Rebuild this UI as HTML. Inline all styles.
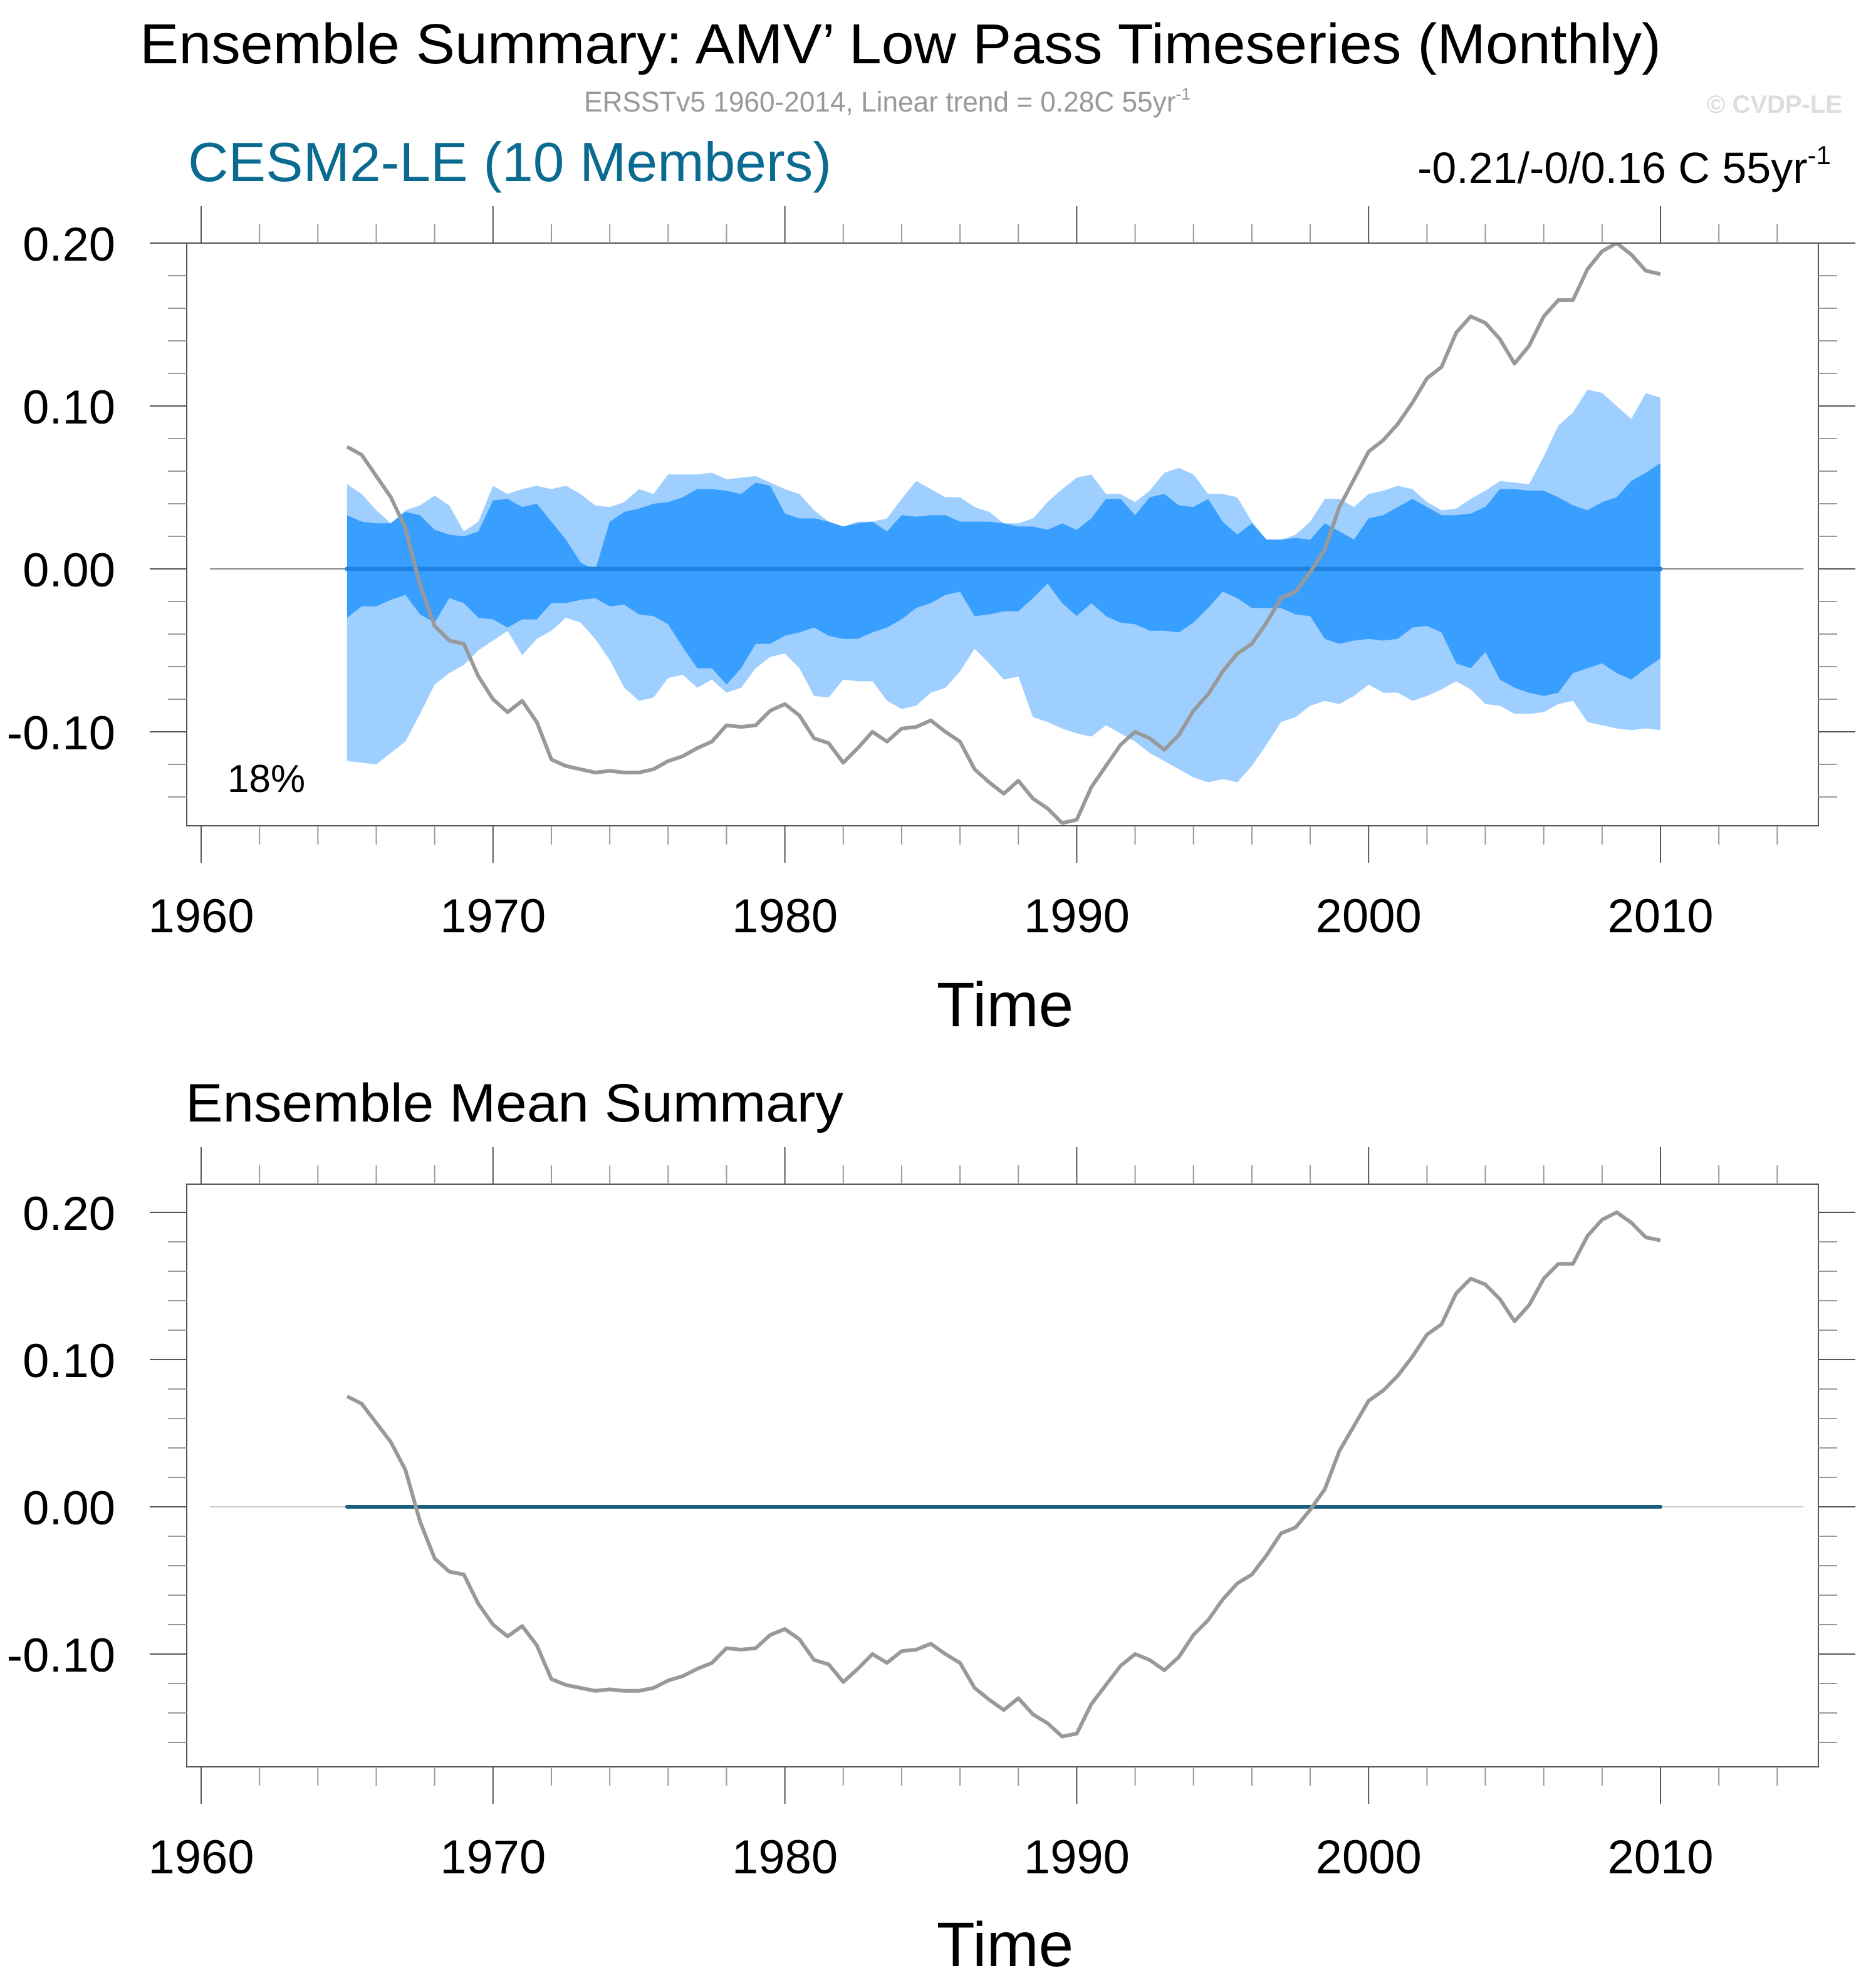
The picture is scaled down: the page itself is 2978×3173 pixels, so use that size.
<!DOCTYPE html>
<html>
<head>
<meta charset="utf-8">
<style>
html,body{margin:0;padding:0;background:#fff;}
svg{display:block;}
text{font-family:"Liberation Sans",Arial,sans-serif;}
</style>
</head>
<body>
<svg id="chart" width="2978" height="3173" viewBox="0 0 2978 3173" xmlns="http://www.w3.org/2000/svg">
  <rect x="0" y="0" width="2978" height="3173" fill="#fff"/>
  <text x="223" y="101" font-size="90" textLength="2428" lengthAdjust="spacingAndGlyphs" fill="#000">Ensemble Summary: AMV’ Low Pass Timeseries (Monthly)</text>
  <text x="932" y="178" font-size="45" textLength="968" lengthAdjust="spacingAndGlyphs" fill="#999">ERSSTv5 1960-2014, Linear trend = 0.28C 55yr<tspan font-size="27" dy="-19">-1</tspan></text>
  <text x="2940" y="180" font-size="40" font-weight="bold" text-anchor="end" fill="#ddd">© CVDP-LE</text>
  <text x="300" y="289" font-size="88" textLength="1027" lengthAdjust="spacingAndGlyphs" fill="#0a6a8f">CESM2-LE (10 Members)</text>
  <text x="2262" y="292" font-size="70" fill="#000">-0.21/-0/0.16 C 55yr<tspan font-size="42" dy="-30">-1</tspan></text>
  <text x="363" y="1264" font-size="62" fill="#000">18%</text>
  <text x="296" y="1790" font-size="86" textLength="1050" lengthAdjust="spacingAndGlyphs" fill="#000">Ensemble Mean Summary</text>
  <g id="top-panel"></g>
  <g id="bottom-panel"></g>
</svg>
<script>
// ---- data ----
const startYear = 1965;
const stepYears = 0.5;
const obsAMV = [0.075,0.070,0.057,0.044,0.025,-0.010,-0.035,-0.044,-0.046,-0.066,-0.080,-0.088,-0.081,-0.094,-0.117,-0.121,-0.123,-0.125,-0.124,-0.125,-0.125,-0.123,-0.118,-0.115,-0.110,-0.106,-0.096,-0.097,-0.096,-0.087,-0.083,-0.090,-0.104,-0.107,-0.119,-0.110,-0.100,-0.106,-0.098,-0.097,-0.093,-0.100,-0.106,-0.123,-0.131,-0.138,-0.130,-0.141,-0.147,-0.156,-0.154,-0.134,-0.121,-0.108,-0.100,-0.104,-0.111,-0.102,-0.087,-0.077,-0.063,-0.052,-0.046,-0.033,-0.018,-0.014,-0.002,0.012,0.038,0.055,0.072,0.079,0.089,0.102,0.117,0.124,0.145,0.155,0.151,0.141,0.126,0.137,0.155,0.165,0.165,0.184,0.195,0.200,0.193,0.183,0.181];
const lightUpper = [0.052,0.046,0.036,0.028,0.036,0.039,0.045,0.039,0.023,0.029,0.051,0.046,0.049,0.051,0.049,0.051,0.046,0.039,0.038,0.041,0.049,0.046,0.058,0.058,0.058,0.059,0.055,0.056,0.057,0.053,0.049,0.046,0.036,0.029,0.026,0.029,0.029,0.031,0.043,0.054,0.049,0.044,0.044,0.038,0.035,0.028,0.028,0.031,0.041,0.049,0.056,0.058,0.046,0.046,0.041,0.048,0.059,0.062,0.058,0.046,0.046,0.044,0.029,0.018,0.018,0.021,0.029,0.043,0.043,0.038,0.046,0.048,0.051,0.049,0.041,0.036,0.037,0.043,0.048,0.054,0.053,0.052,0.069,0.088,0.096,0.110,0.108,0.100,0.092,0.108,0.105];
const darkUpper = [0.033,0.029,0.028,0.028,0.035,0.033,0.024,0.021,0.020,0.023,0.042,0.043,0.038,0.040,0.029,0.018,0.004,-0.001,0.029,0.035,0.037,0.040,0.041,0.044,0.049,0.049,0.048,0.046,0.053,0.051,0.034,0.031,0.031,0.029,0.026,0.028,0.029,0.023,0.033,0.032,0.033,0.033,0.029,0.029,0.029,0.028,0.026,0.026,0.024,0.028,0.024,0.031,0.043,0.043,0.033,0.044,0.046,0.039,0.038,0.043,0.029,0.021,0.028,0.018,0.018,0.019,0.018,0.028,0.023,0.018,0.031,0.033,0.038,0.043,0.038,0.033,0.033,0.034,0.038,0.049,0.049,0.048,0.048,0.044,0.039,0.036,0.041,0.044,0.054,0.059,0.065];
const darkLower = [-0.030,-0.023,-0.023,-0.019,-0.016,-0.028,-0.033,-0.018,-0.021,-0.030,-0.031,-0.036,-0.031,-0.031,-0.021,-0.021,-0.019,-0.018,-0.023,-0.022,-0.028,-0.029,-0.034,-0.048,-0.061,-0.061,-0.071,-0.061,-0.046,-0.046,-0.041,-0.039,-0.036,-0.041,-0.043,-0.043,-0.039,-0.036,-0.031,-0.024,-0.021,-0.016,-0.014,-0.029,-0.028,-0.026,-0.026,-0.018,-0.009,-0.021,-0.029,-0.021,-0.029,-0.033,-0.034,-0.038,-0.038,-0.039,-0.033,-0.024,-0.014,-0.018,-0.024,-0.024,-0.024,-0.028,-0.029,-0.043,-0.046,-0.044,-0.043,-0.044,-0.043,-0.036,-0.035,-0.039,-0.058,-0.061,-0.051,-0.068,-0.073,-0.076,-0.078,-0.076,-0.064,-0.061,-0.058,-0.064,-0.068,-0.061,-0.055];
const lightLower = [-0.118,-0.119,-0.120,-0.113,-0.106,-0.089,-0.071,-0.064,-0.059,-0.050,-0.044,-0.038,-0.053,-0.043,-0.038,-0.030,-0.033,-0.043,-0.056,-0.073,-0.081,-0.079,-0.067,-0.065,-0.073,-0.068,-0.076,-0.073,-0.061,-0.054,-0.052,-0.061,-0.078,-0.079,-0.068,-0.069,-0.069,-0.081,-0.086,-0.084,-0.076,-0.073,-0.063,-0.049,-0.058,-0.068,-0.066,-0.091,-0.094,-0.098,-0.101,-0.103,-0.096,-0.101,-0.106,-0.113,-0.118,-0.123,-0.128,-0.131,-0.129,-0.131,-0.121,-0.108,-0.094,-0.091,-0.084,-0.081,-0.083,-0.078,-0.071,-0.076,-0.076,-0.081,-0.078,-0.074,-0.069,-0.074,-0.083,-0.084,-0.089,-0.089,-0.088,-0.083,-0.081,-0.094,-0.096,-0.098,-0.099,-0.098,-0.099];
const ensembleMean = [0.0,0.0];
const meanYears = [1965,2010];
const xTickYears = [1960,1970,1980,1990,2000,2010];
const xTickLabels = ["1960","1970","1980","1990","2000","2010"];
const yTickValues = [-0.10,0.00,0.10,0.20];
const yTickLabels = ["-0.10","0.00","0.10","0.20"];

const NS = "http://www.w3.org/2000/svg";
function mk(tag, attrs, parent){
  const e = document.createElementNS(NS, tag);
  for (const k in attrs) e.setAttribute(k, attrs[k]);
  parent.appendChild(e);
  return e;
}
const years = obsAMV.map((_, i) => startYear + i * stepYears);

function buildPanel(g, cfg){
  const xs = y => cfg.x0 + (y - 1960) * cfg.pxPerYear;
  const ys = v => cfg.yZero - v * cfg.pxPerUnit;
  const L = 298, R = 2902, T = cfg.top, B = cfg.bottom;

  const cid = cfg.id + "-clip";
  const defs = mk("defs", {}, g);
  const cp = mk("clipPath", {id: cid}, defs);
  mk("rect", {x: L, y: T, width: R - L, height: B - T}, cp);
  const plot = mk("g", {"clip-path": "url(#" + cid + ")"}, g);

  if (cfg.bands){
    const n = Math.min(years.length, lightUpper.length, lightLower.length, darkUpper.length, darkLower.length);
    let p1 = [], p2 = [];
    for (let i = 0; i < n; i++) p1.push(xs(years[i]) + "," + ys(lightUpper[i]));
    for (let i = n - 1; i >= 0; i--) p1.push(xs(years[i]) + "," + ys(lightLower[i]));
    const lb = mk("polygon", {points: p1.join(" "), fill: "#9fcfff"}, plot);
    
    
    for (let i = 0; i < n; i++) p2.push(xs(years[i]) + "," + ys(darkUpper[i]));
    for (let i = n - 1; i >= 0; i--) p2.push(xs(years[i]) + "," + ys(darkLower[i]));
    const db = mk("polygon", {points: p2.join(" "), fill: "#389fff"}, plot);
    
    
  }
  const zl = mk("line", {x1: xs(1960.3), x2: xs(2014.9), y1: ys(0), y2: ys(0), stroke: cfg.refColor, "stroke-width": 2}, plot);
  
  
  const ml = mk("line", {x1: xs(meanYears[0]), x2: xs(meanYears[1]), y1: ys(ensembleMean[0]), y2: ys(ensembleMean[1]), stroke: cfg.meanColor, "stroke-width": cfg.meanWidth, "stroke-linecap": "round"}, plot);
  
  
  const pts = obsAMV.map((v, i) => xs(years[i]) + "," + ys(v)).join(" ");
  const ol = mk("polyline", {points: pts, fill: "none", stroke: "#999", "stroke-width": 6, "stroke-linejoin": "round"}, plot);
  
  

  const fr = mk("rect", {x: L, y: T, width: R - L, height: B - T, fill: "none", stroke: "#555", "stroke-width": 2}, g);
  
  

  for (let yr = 1960; yr <= 2014; yr += 2){
    const major = (yr % 10 === 0);
    const len = major ? 59 : 30;
    const col = major ? "#555" : "#999";
    const x = xs(yr);
    mk("line", {x1: x, x2: x, y1: T, y2: T - len, stroke: col, "stroke-width": 2}, g);
    mk("line", {x1: x, x2: x, y1: B, y2: B + len, stroke: col, "stroke-width": 2}, g);
  }
  xTickYears.forEach((yr, i) => {
    const t = mk("text", {x: xs(yr), y: B + 170, "font-size": 76, "text-anchor": "middle", fill: "#000"}, g);
    t.textContent = xTickLabels[i];
    
    
  });
  for (let k = -8; k <= 10; k++){
    const v = k * 0.02;
    const y = ys(v);
    if (y < T - 1 || y > B + 1) continue;
    const major = (k % 5 === 0);
    const len = major ? 59 : 30;
    const col = major ? "#555" : "#999";
    mk("line", {x1: L, x2: L - len, y1: y, y2: y, stroke: col, "stroke-width": 2}, g);
    mk("line", {x1: R, x2: R + len, y1: y, y2: y, stroke: col, "stroke-width": 2}, g);
  }
  yTickValues.forEach((v, i) => {
    const t = mk("text", {x: 184, y: ys(v) + 28, "font-size": 76, "text-anchor": "end", fill: "#000"}, g);
    t.textContent = yTickLabels[i];
    
    
  });
  const xt = mk("text", {x: 1604, y: cfg.timeY, "font-size": 100, "text-anchor": "middle", fill: "#000"}, g);
  xt.textContent = "Time";
  
  
}

buildPanel(document.getElementById("top-panel"), {
  id: "top", x0: 321, pxPerYear: 46.58, yZero: 908, pxPerUnit: 2600,
  top: 388, bottom: 1318, bands: true, refColor: "#888",
  meanColor: "#1f82e0", meanWidth: 7, timeY: 1638
});
buildPanel(document.getElementById("bottom-panel"), {
  id: "bot", x0: 321, pxPerYear: 46.58, yZero: 2405, pxPerUnit: 2350,
  top: 1890, bottom: 2820, bands: false, refColor: "#ccc",
  meanColor: "#1b5e7b", meanWidth: 6, timeY: 3138
});
</script>
</body>
</html>
